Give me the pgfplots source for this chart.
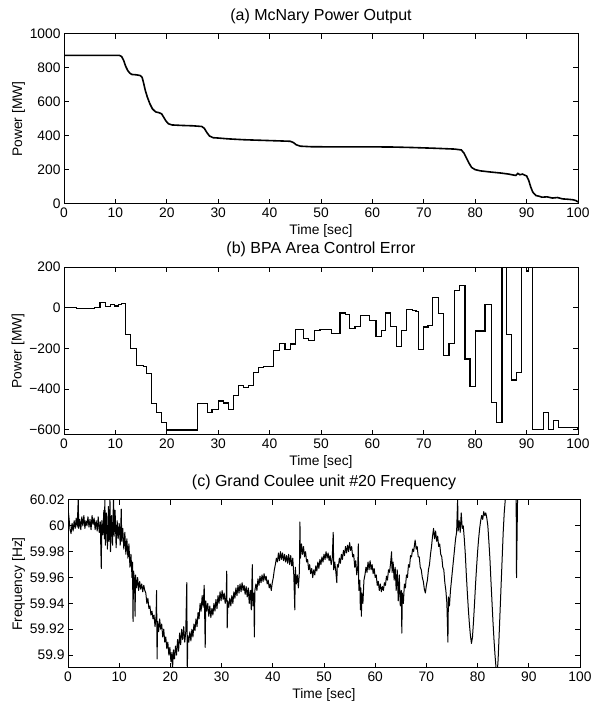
\documentclass[border=0pt]{standalone}
\usepackage{fontspec}
\setmainfont{Liberation Sans}
\usepackage{pgfplots}
\pgfplotsset{compat=1.18}
\usepackage{pgfplotstable}

\pgfplotstableread{
t p
0 874
10.8 874
11.2 868
11.6 845
12.0 810
12.4 785
12.8 770
13.2 762
14.0 760
14.8 756
15.2 745
15.5 710
15.8 670
16.2 630
16.7 590
17.2 560
17.8 542
18.5 537
19.0 530
19.4 510
19.8 490
20.3 472
21.0 465
23 462
25 460
26.8 456
27.3 445
27.8 420
28.3 400
29.0 390
30 388
32 383
35 378
38 375
41 372
44 369
44.6 362
45.2 348
46 340
48 337
52 336
56 336
60 336
64 335
68 332
72 328
76 323
77.3 318
77.8 300
78.3 270
78.8 240
79.3 215
80 202
81 195
83 188
85 182
86.5 176
87.5 170
87.9 168
88.3 180
88.7 172
89.2 176
89.6 170
90.0 165
90.4 140
90.8 100
91.2 70
91.8 50
92.5 45
93 40
94 42
95 35
96 38
97 30
98 28
99 25
99.6 20
100 12
}\mcnary

\pgfplotstableread{
t a
0 0
2.5 -5
6.0 0
7.0 25
8.0 5
9.0 15
9.8 8
10.6 15
11.2 20
11.9 -130
12.9 -200
14.1 -285
15.4 -290
16.0 -322
17.0 -472
18.0 -515
19.0 -565
20.0 -600
25.9 -472
27.9 -515
28.8 -500
30.0 -458
31.0 -468
32.0 -500
33.0 -430
33.9 -383
34.9 -390
35.9 -380
36.8 -317
37.8 -292
38.8 -290
40.7 -210
42.0 -175
43.0 -205
44.0 -178
45.0 -105
46.6 -153
47.5 -160
48.8 -113
49.8 -108
52.1 -128
53.7 -26
54.7 -34
55.6 -103
56.6 -91
57.7 -37
59.5 -62
60.7 -141
61.7 -111
62.6 -26
63.5 -91
64.7 -189
65.7 -111
66.7 -9
67.8 -12
68.5 -20
68.9 -205
69.9 -95
70.8 -88
71.7 50
72.8 -30
73.9 -235
74.9 -174
75.9 85
76.9 111
78.0 -252
79.0 -388
80.0 -114
81.9 17
83.1 -464
84.2 -563
85.2 500
86.1 -132
87.1 -355
88.1 -317
89.0 500
90.0 180
90.3 500
91.1 -597
93.3 -515
94.2 -597
95.2 -555
96.2 -590
100 -595
}\ace

\pgfplotstableread{
t f
0.0 60.014
0.2 60.006
0.4 59.997
0.6 59.994
0.8 60.002
1.0 59.996
1.2 60.004
1.4 59.998
1.6 60.006
1.8 59.999
2.0 60.021
2.1 59.998
2.3 60.005
2.5 59.997
2.7 60.007
2.9 60.000
3.1 60.008
3.3 59.998
3.5 60.004
3.7 60.000
3.9 60.007
4.1 59.999
4.3 60.005
4.5 59.997
4.7 60.008
4.9 60.001
5.1 60.006
5.3 59.997
5.5 60.004
5.7 59.996
5.9 60.007
6.1 59.995
6.3 60.003
6.5 59.967
6.6 60.004
6.8 59.993
7.0 60.012
7.1 59.990
7.2 60.022
7.3 59.985
7.5 60.010
7.7 59.982
7.9 60.015
8.0 59.988
8.2 60.020
8.3 59.980
8.5 60.008
8.7 59.985
8.9 60.025
9.0 59.992
9.2 60.012
9.4 59.983
9.6 60.004
9.8 59.990
10.0 60.002
10.2 59.985
10.4 60.013
10.5 59.988
10.7 59.998
10.9 59.982
11.1 59.995
11.3 59.978
11.5 59.990
11.7 59.975
11.9 59.986
12.1 59.968
12.3 59.978
12.5 59.960
12.6 59.972
12.7 59.926
12.8 59.965
13.0 59.958
13.1 59.930
13.2 59.962
13.4 59.952
13.6 59.960
13.8 59.950
14.0 59.957
14.2 59.951
14.4 59.955
14.6 59.949
14.8 59.954
15.0 59.950
15.2 59.948
15.4 59.940
15.6 59.944
15.8 59.936
16.0 59.938
16.2 59.931
16.4 59.934
16.6 59.928
16.8 59.931
17.0 59.922
17.2 59.930
17.3 59.950
17.4 59.897
17.5 59.926
17.7 59.918
17.9 59.928
18.1 59.920
18.3 59.924
18.5 59.914
18.7 59.920
18.9 59.910
19.1 59.914
19.3 59.905
19.5 59.910
19.7 59.900
19.9 59.906
20.1 59.895
20.3 59.902
20.4 59.888
20.6 59.904
20.8 59.897
21.0 59.907
21.2 59.900
21.4 59.912
21.6 59.903
21.8 59.917
22.0 59.908
22.2 59.920
22.4 59.912
22.6 59.922
22.8 59.910
23.0 59.918
23.2 59.956
23.3 59.885
23.4 59.915
23.6 59.910
23.8 59.918
24.0 59.911
24.2 59.920
24.4 59.914
24.6 59.924
24.8 59.919
25.0 59.928
25.2 59.922
25.4 59.933
25.6 59.928
25.8 59.940
26.0 59.934
26.2 59.946
26.4 59.937
26.6 59.954
26.8 59.906
26.9 59.942
27.1 59.934
27.3 59.940
27.5 59.930
27.7 59.938
27.9 59.929
28.1 59.936
28.3 59.931
28.5 59.940
28.7 59.934
28.9 59.943
29.1 59.936
29.3 59.946
29.5 59.940
29.7 59.949
29.9 59.942
30.1 59.950
30.3 59.943
30.5 59.948
30.7 59.940
30.9 59.945
31.0 59.965
31.1 59.921
31.2 59.942
31.4 59.937
31.6 59.944
31.8 59.938
32.0 59.946
32.2 59.940
32.4 59.949
32.6 59.944
32.8 59.952
33.0 59.946
33.2 59.954
33.4 59.948
33.6 59.955
33.8 59.949
34.0 59.956
34.2 59.950
34.4 59.954
34.6 59.947
34.8 59.953
35.0 59.945
35.2 59.952
35.4 59.940
35.6 59.950
35.8 59.935
36.0 59.970
36.1 59.938
36.3 59.948
36.4 59.914
36.5 59.950
36.7 59.955
36.9 59.950
37.1 59.959
37.3 59.954
37.5 59.961
37.7 59.956
37.9 59.962
38.1 59.957
38.3 59.963
38.5 59.958
38.7 59.961
38.9 59.955
39.1 59.958
39.3 59.952
39.5 59.955
39.7 59.950
39.9 59.956
40.1 59.960
40.3 59.966
40.5 59.970
40.7 59.975
40.9 59.972
41.1 59.979
41.3 59.973
41.5 59.980
41.7 59.974
41.9 59.979
42.1 59.973
42.3 59.978
42.5 59.972
42.7 59.977
42.9 59.971
43.1 59.978
43.3 59.970
43.5 59.977
43.7 59.969
43.9 59.975
44.1 59.962
44.3 59.935
44.4 59.968
44.6 59.955
44.8 59.962
45.0 59.952
45.2 59.965
45.3 60.003
45.4 59.975
45.6 59.986
45.8 59.978
46.0 59.984
46.2 59.976
46.4 59.980
46.6 59.972
46.8 59.974
47.0 59.966
47.2 59.970
47.4 59.963
47.6 59.967
47.8 59.960
48.0 59.966
48.2 59.962
48.4 59.969
48.6 59.965
48.8 59.972
49.0 59.967
49.2 59.974
49.4 59.970
49.6 59.976
49.8 59.972
50.0 59.978
50.2 59.974
50.4 59.980
50.6 59.975
50.8 59.979
51.0 59.973
51.2 59.977
51.4 59.970
51.6 59.974
51.8 59.995
51.9 59.966
52.1 59.972
52.3 59.965
52.5 59.956
52.6 59.970
52.8 59.968
53.0 59.975
53.2 59.971
53.4 59.978
53.6 59.974
53.8 59.981
54.0 59.977
54.2 59.984
54.4 59.979
54.6 59.985
54.8 59.980
55.0 59.987
55.2 59.981
55.4 59.984
55.6 59.976
55.8 59.978
56.0 59.968
56.2 59.973
56.4 59.962
56.6 59.969
56.7 59.986
56.8 59.950
57.0 59.958
57.1 59.935
57.2 59.952
57.3 59.930
57.4 59.948
57.6 59.940
57.8 59.958
58.0 59.962
58.2 59.968
58.4 59.964
58.6 59.972
58.8 59.966
59.0 59.973
59.2 59.966
59.4 59.970
59.6 59.963
59.8 59.967
60.0 59.960
60.2 59.962
60.4 59.954
60.6 59.957
60.8 59.950
61.0 59.955
61.2 59.949
61.4 59.953
61.6 59.950
61.8 59.956
62.0 59.954
62.2 59.961
62.4 59.958
62.6 59.966
62.8 59.964
63.0 59.971
63.2 59.980
63.3 59.964
63.5 59.972
63.7 59.958
63.9 59.968
64.1 59.950
64.3 59.966
64.5 59.942
64.7 59.962
64.9 59.938
65.1 59.950
65.2 59.917
65.3 59.948
65.5 59.940
65.7 59.955
65.9 59.952
66.1 59.962
66.3 59.960
66.5 59.970
66.7 59.968
66.9 59.977
67.1 59.976
67.3 59.982
67.5 59.980
67.7 59.986
67.8 59.989
68.0 59.982
68.2 59.984
68.4 59.976
68.6 59.976
68.8 59.968
69.0 59.966
69.2 59.960
69.4 59.957
69.6 59.951
69.8 59.948
70.0 59.954
70.2 59.958
70.4 59.966
70.6 59.970
70.8 59.978
71.0 59.984
71.2 59.992
71.4 59.998
71.6 59.990
71.8 59.996
72.0 59.988
72.2 59.992
72.4 59.984
72.6 59.986
72.8 59.978
73.0 59.976
73.2 59.968
73.4 59.966
73.6 59.956
73.8 59.950
74.0 59.940
74.2 59.910
74.3 59.945
74.5 59.938
74.7 59.950
74.9 59.958
75.1 59.966
75.3 59.974
75.5 59.982
75.7 59.990
75.9 59.995
76.1 60.021
76.2 59.996
76.4 60.004
76.6 59.995
76.8 60.010
77.0 59.998
77.2 60.000
77.4 59.990
77.6 59.978
77.8 59.962
78.0 59.948
78.2 59.935
78.4 59.924
78.6 59.915
78.8 59.909
79.0 59.914
79.2 59.926
79.4 59.940
79.6 59.955
79.8 59.968
80.0 59.980
80.2 59.990
80.4 59.998
80.6 60.004
80.8 60.008
81.0 60.005
81.2 60.011
81.4 60.008
81.6 60.010
81.8 60.006
82.0 60.000
82.2 59.988
82.4 59.975
82.6 59.958
82.8 59.942
83.0 59.926
83.2 59.912
83.4 59.900
83.6 59.890
83.8 59.885
84.0 59.896
84.2 59.915
84.4 59.935
84.6 59.955
84.8 59.975
85.0 59.995
85.2 60.010
85.4 60.020
85.6 60.035
86.0 60.050
87.5 60.050
87.6 59.960
87.9 60.050
100 60.050
}\freq

\begin{document}
\begin{tikzpicture}
\useasboundingbox (0,0) rectangle (598pt,704pt);
\pgfplotsset{
  every axis/.append style={
    scale only axis, anchor=south west,
    font=\fontsize{13.8}{16}\selectfont,
    xmin=0, xmax=100, xtick={0,10,...,100},
    tick align=inside, major tick length=5pt,
    axis line style={line width=1pt},
    every tick/.style={black, line width=1pt},
    title style={font=\fontsize{16}{18}\selectfont, yshift=1pt},
    xlabel={Time [sec]},
    ylabel style={yshift=-2pt},
    /pgf/number format/assume math mode=true,
    xticklabels={0,10,20,30,40,50,60,70,80,90,100},
  }
}
% (a)
\begin{axis}[at={(64pt,500pt)}, width=514pt, height=170pt,
  ymin=0, ymax=1000, ytick={0,200,...,1000},
  yticklabels={0,200,400,600,800,1000},
  title={(a) McNary Power Output}, ylabel={Power [MW]}]
\addplot[black, line width=1.6pt] table[x=t,y=p] {\mcnary};
\end{axis}
% (b)
\begin{axis}[at={(64pt,269pt)}, width=514pt, height=168pt,
  ymin=-625, ymax=200, ytick={-600,-400,-200,0,200},
  yticklabels={−600,−400,−200,0,200},
  title={(b) BPA Area Control Error}, ylabel={Power [MW]}]
\addplot[black, line width=1.2pt, const plot] table[x=t,y=a] {\ace};
\end{axis}
% (c)
\begin{axis}[at={(68pt,36pt)}, width=512pt, height=168pt,
  ymin=59.89, ymax=60.02, ytick={59.9,59.92,59.94,59.96,59.98,60,60.02},
  yticklabels={59.9,59.92,59.94,59.96,59.98,60,60.02},
  title={(c) Grand Coulee unit \#20 Frequency}, ylabel={Frequency [Hz]}]
\addplot[black, line width=1.0pt, line join=round] table[x=t,y=f] {\freq};
\end{axis}
\end{tikzpicture}
\end{document}
